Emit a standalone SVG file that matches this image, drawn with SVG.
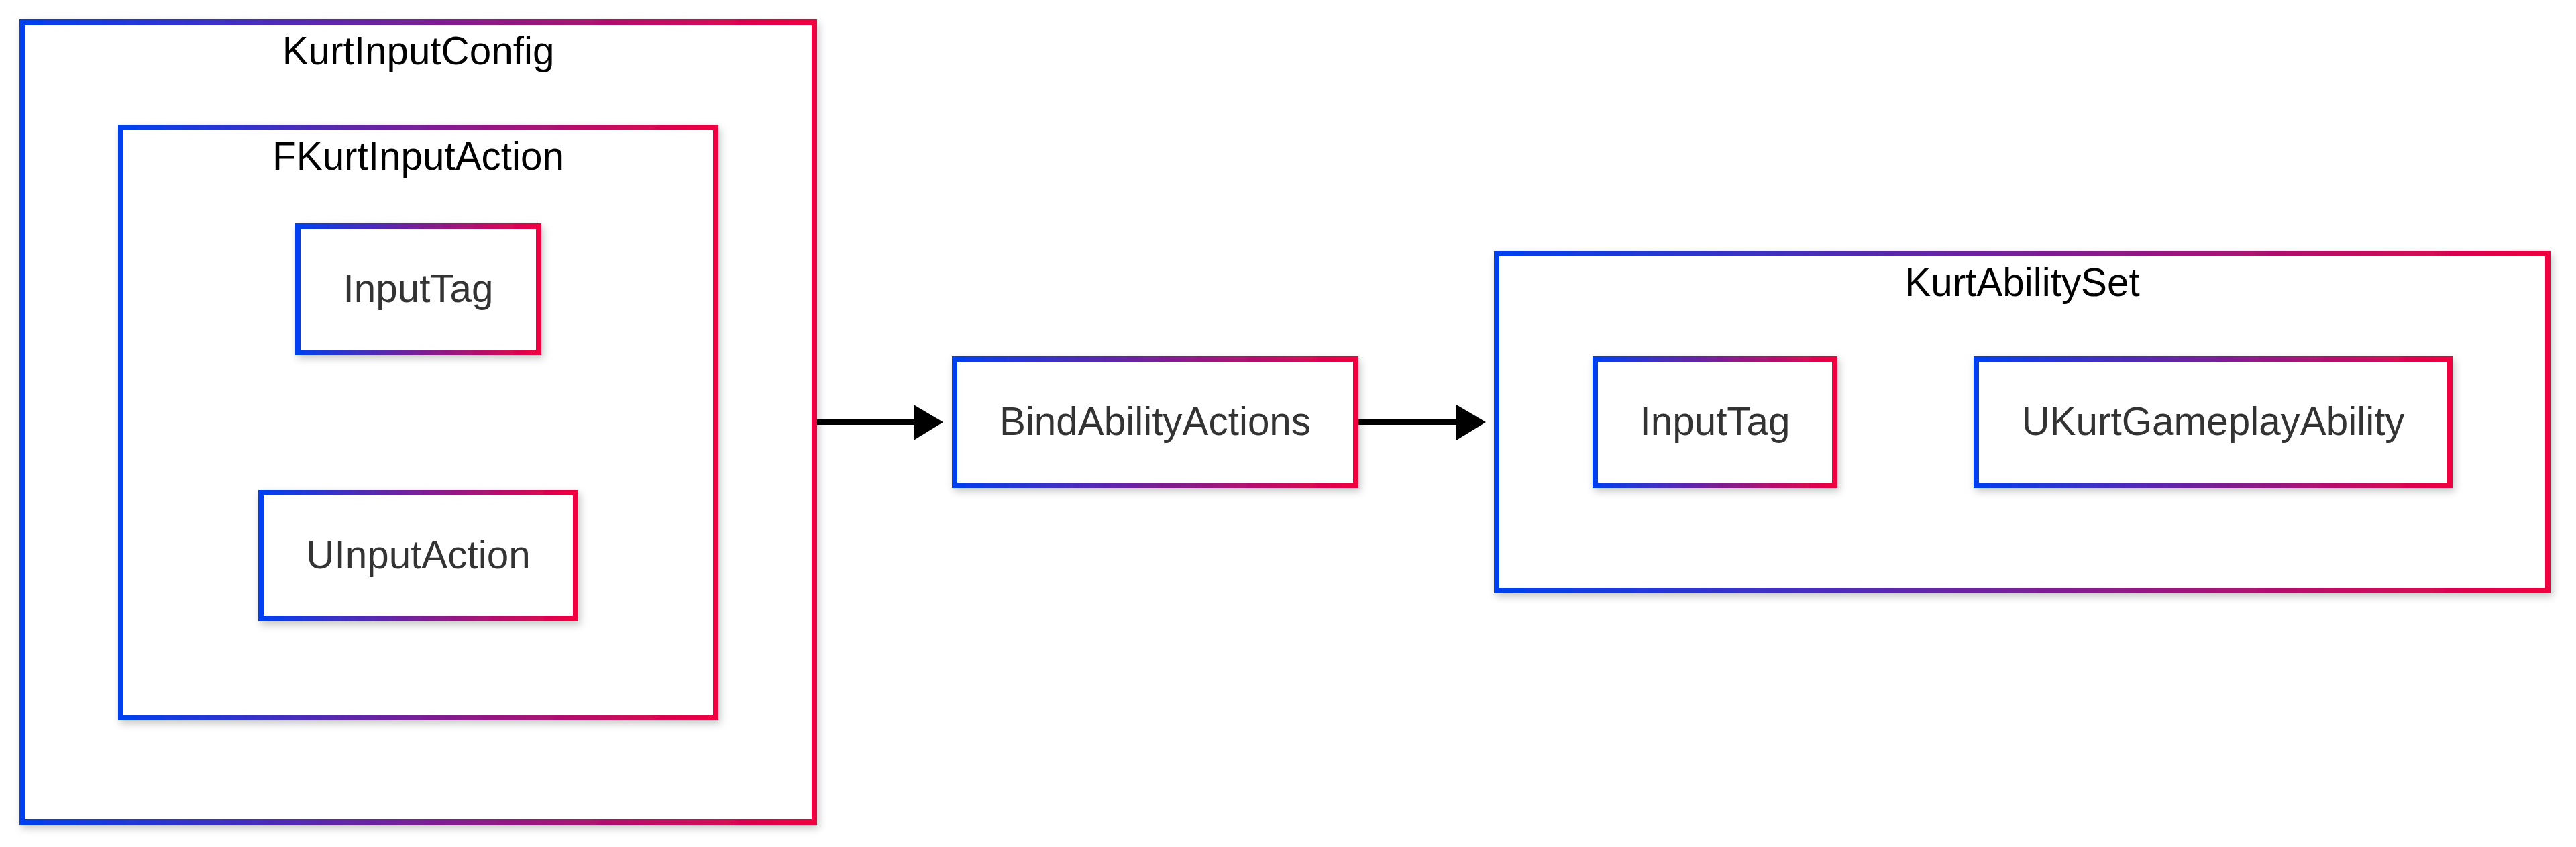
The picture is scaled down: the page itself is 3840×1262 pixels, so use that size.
<svg xmlns="http://www.w3.org/2000/svg" width="3840" height="1262" viewBox="0 0 3840 1262">
<defs>
<linearGradient id="g" x1="0" y1="0" x2="1" y2="0">
<stop offset="0" stop-color="#0040f0"/>
<stop offset="1" stop-color="#f00040"/>
</linearGradient>
<filter id="sh" x="-10%" y="-10%" width="130%" height="130%">
<feDropShadow dx="3" dy="5" stdDeviation="6" flood-color="#000" flood-opacity="0.22"/>
</filter>
</defs>
<style>
.box{fill:#fff;stroke:url(#g);stroke-width:8;filter:url(#sh)}
.title{font-family:"Liberation Sans",Arial,sans-serif;font-size:58.4px;fill:#000;text-anchor:middle}
.lbl{font-family:"Liberation Sans",Arial,sans-serif;font-size:58.4px;fill:#333;text-anchor:middle}
.edge{stroke:#000;stroke-width:8;fill:none}
.head{fill:#000}
</style>
<rect width="3840" height="1262" fill="#fff"/>
<g id="KurtInputConfig">
<rect class="box" x="33" y="33" width="1181" height="1192"/>
<text class="title" x="623.5" y="96">KurtInputConfig</text>
</g>
<g id="FKurtInputAction">
<rect class="box" x="180" y="190" width="887" height="879"/>
<text class="title" x="623.5" y="253">FKurtInputAction</text>
</g>
<g id="InputTag1">
<rect class="box" x="444" y="337" width="359" height="188"/>
<text class="lbl" x="623.5" y="450">InputTag</text>
</g>
<g id="UInputAction">
<rect class="box" x="389" y="734" width="469" height="188"/>
<text class="lbl" x="623.5" y="847">UInputAction</text>
</g>
<g id="BindAbilityActions">
<rect class="box" x="1423" y="535" width="598" height="188"/>
<text class="lbl" x="1722" y="648">BindAbilityActions</text>
</g>
<g id="KurtAbilitySet">
<rect class="box" x="2231" y="378" width="1567" height="502"/>
<text class="title" x="3014.5" y="441">KurtAbilitySet</text>
</g>
<g id="InputTag2">
<rect class="box" x="2378" y="535" width="357" height="188"/>
<text class="lbl" x="2556.5" y="648">InputTag</text>
</g>
<g id="UKurtGameplayAbility">
<rect class="box" x="2946" y="535" width="706" height="188"/>
<text class="lbl" x="3299" y="648">UKurtGameplayAbility</text>
</g>
<g id="connectors">
<line class="edge" x1="1218" y1="629" x2="1364" y2="629"/>
<polygon class="head" points="1362,603 1406,629 1362,656"/>
<line class="edge" x1="2025" y1="629" x2="2173" y2="629"/>
<polygon class="head" points="2171,603 2215,629 2171,656"/>
</g>
</svg>
